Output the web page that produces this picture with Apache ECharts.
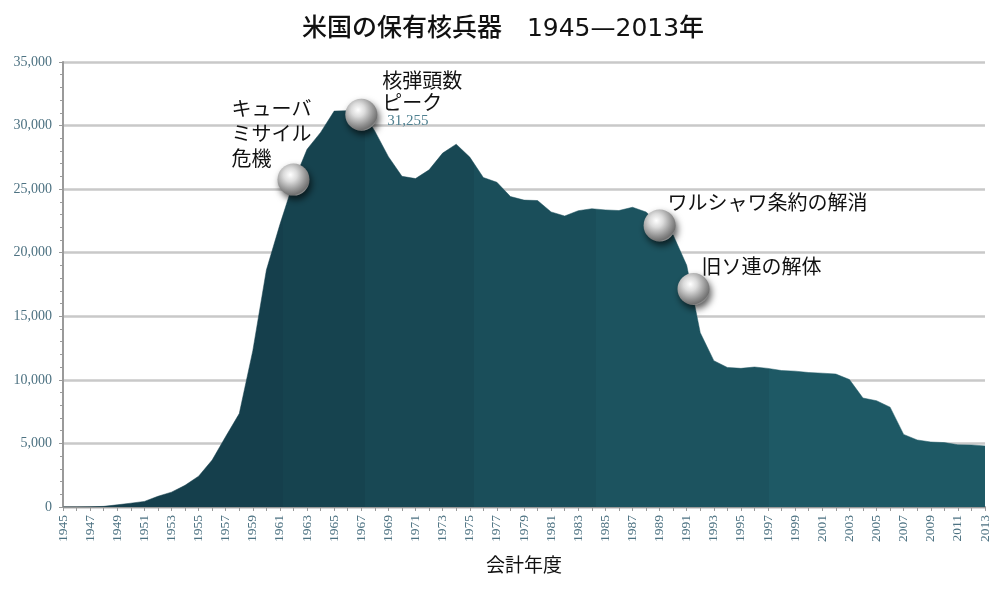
<!DOCTYPE html>
<html><head><meta charset="utf-8">
<script src="https://cdn.jsdelivr.net/npm/echarts@6/dist/echarts.min.js"></script>
<style>html,body{margin:0;padding:0;background:#fff}#c{width:1006px;height:600px}</style>
</head><body><div id="c"></div>
<script>
// ---- data ----
const years = [1945,1946,1947,1948,1949,1950,1951,1952,1953,1954,1955,1956,1957,1958,1959,
  1960,1961,1962,1963,1964,1965,1966,1967,1968,1969,1970,1971,1972,1973,1974,1975,1976,1977,
  1978,1979,1980,1981,1982,1983,1984,1985,1986,1987,1988,1989,1990,1991,1992,1993,1994,1995,
  1996,1997,1998,1999,2000,2001,2002,2003,2004,2005,2006,2007,2008,2009,2010,2011,2012,2013];
const stockpile = [2,9,13,50,170,299,438,841,1169,1703,2422,3692,5543,7345,12298,
  18638,22229,25540,28133,29463,31139,31175,31255,29561,27552,26008,25830,26516,27835,28537,27519,25914,25542,
  24418,24138,24104,23208,22886,23305,23459,23368,23317,23575,23205,22217,21392,19008,13708,11511,10979,10904,
  11011,10903,10732,10685,10577,10526,10457,10027,8570,8360,7853,5709,5273,5113,5066,4897,4881,4804];
const bandEdges = [1961.2, 1967.3, 1975.3, 1984.3, 1997.05];
const annoYears = [1962, 1967, 1989, 1991.5];
const annoValues = [25750, 30850, 22150, 17150];
const annoTexts = ['キューバ\nミサイル\n危機', '核弾頭数\nピーク', 'ワルシャワ条約の解消', '旧ソ連の解体'];
const peakLabel = '31,255';
const titleText = '米国の保有核兵器　1945—2013年';
const xName = '会計年度';

// ---- styles ----
const bandColors = ['#153f4c', '#16434f', '#184854', '#1a4e5a', '#1c535f', '#1e5965'];
const labelOffsets = [[-46, -68], [37, -29], [24, -19], [24, -19]];
const labelLineHeights = [25, 22, 24, 24];
const axisTextColor = '#4d7282';
const serif = '"Liberation Serif","DejaVu Serif",serif';
const jp = '"Noto Sans CJK JP","Noto Sans",sans-serif';
const titleFont = '"DejaVu Sans","Noto Sans CJK JP",sans-serif';

const pieces = [];
for (let i = 0; i <= bandEdges.length; i++) {
  const p = { color: bandColors[i] };
  if (i > 0) p.gte = bandEdges[i - 1];
  if (i < bandEdges.length) p.lt = bandEdges[i];
  pieces.push(p);
}

const sphere = {
  type: 'radial', x: 0.4, y: 0.35, r: 0.7,
  colorStops: [
    { offset: 0, color: '#ffffff' },
    { offset: 0.3, color: '#dcdcdc' },
    { offset: 0.7, color: '#929292' },
    { offset: 0.9, color: '#707070' },
    { offset: 1, color: '#a8a8a8' }
  ]
};

const markData = annoYears.map((y, i) => {
  const d = {
    coord: [y, annoValues[i]],
    label: {
      show: true,
      position: labelOffsets[i],
      align: 'left',
      verticalAlign: 'top',
      color: '#111',
      fontFamily: jp,
      fontSize: 20,
      lineHeight: labelLineHeights[i],
      formatter: annoTexts[i]
    }
  };
  if (i === 1) {
    d.label.formatter = '{a|' + annoTexts[i].split('\n').join('}\n{a|') + '}\n{b|' + peakLabel + '}';
    d.label.rich = {
      a: { fontFamily: jp, fontSize: 20, lineHeight: 22, color: '#111' },
      b: { fontFamily: serif, fontSize: 15, lineHeight: 15, color: '#4f8090', padding: [0, 0, 0, 5] }
    };
  }
  return d;
});

const chart = echarts.init(document.getElementById('c'), null, { renderer: 'canvas' });
chart.setOption({
  animation: false,
  backgroundColor: '#ffffff',
  title: {
    text: titleText,
    left: 'center',
    top: 12,
    textStyle: { fontFamily: titleFont, fontSize: 25, fontWeight: 500, color: '#111' }
  },
  grid: { left: 63, right: 21, top: 62, bottom: 93, containLabel: false },
  visualMap: {
    type: 'piecewise', show: false, dimension: 0, seriesIndex: 0, pieces: pieces
  },
  xAxis: {
    type: 'value', min: 1945, max: 2013, interval: 2,
    name: xName, nameLocation: 'middle', nameGap: 48,
    nameTextStyle: { fontFamily: jp, fontSize: 19, color: '#111' },
    axisLine: { show: true, lineStyle: { color: '#9a9a9a', width: 2 } },
    axisTick: { show: true, length: 4, lineStyle: { color: '#9a9a9a', width: 1 } },
    minorTick: { show: true, splitNumber: 2, length: 4, lineStyle: { color: '#9a9a9a', width: 1 } },
    splitLine: { show: false },
    axisLabel: {
      rotate: 90, margin: 8, color: axisTextColor, fontFamily: serif, fontSize: 13.5,
      formatter: v => String(v)
    }
  },
  yAxis: {
    type: 'value', min: 0, max: 35000, interval: 5000,
    axisLine: { show: true, lineStyle: { color: '#9a9a9a', width: 2 } },
    axisTick: { show: true, length: 4, lineStyle: { color: '#9a9a9a', width: 1 } },
    minorTick: { show: true, splitNumber: 5, length: 3, lineStyle: { color: '#9a9a9a', width: 1 } },
    splitLine: { show: true, lineStyle: { color: '#c9c9c9', width: 2.5 } },
    axisLabel: {
      margin: 11, color: axisTextColor, fontFamily: serif, fontSize: 14,
      formatter: v => v.toLocaleString('en-US')
    }
  },
  series: [{
    type: 'line',
    data: years.map((y, i) => [y, stockpile[i]]),
    showSymbol: false,
    symbol: 'none',
    lineStyle: { width: 0.5 },
    areaStyle: { opacity: 1 },
    z: 2,
    markPoint: {
      symbol: 'circle',
      symbolSize: 32,
      itemStyle: {
        color: sphere,
        shadowColor: 'rgba(0,0,0,0.65)',
        shadowBlur: 7,
        shadowOffsetX: 2,
        shadowOffsetY: 4
      },
      data: markData,
      z: 5
    }
  }]
});
</script>
</body></html>
